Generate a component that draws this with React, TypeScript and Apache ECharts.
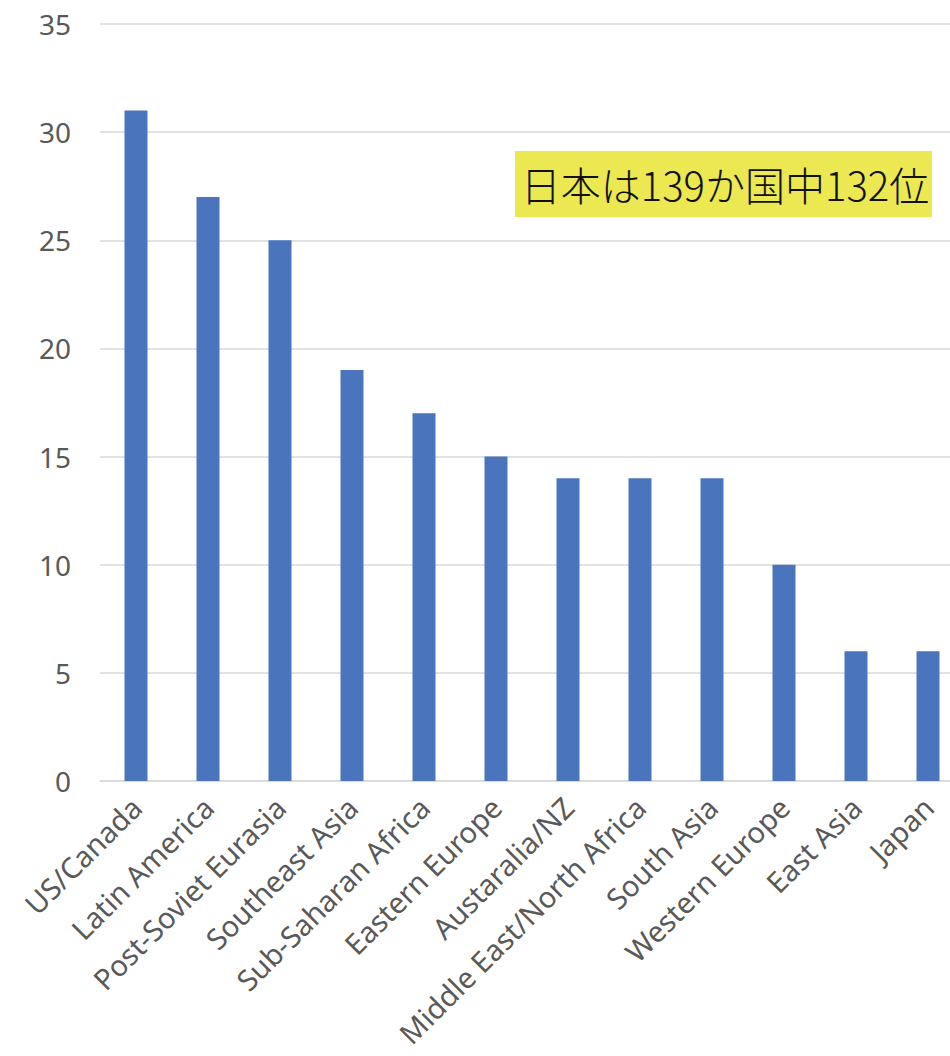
import React, { useEffect, useRef } from "react";
import * as echarts from "echarts";

// Regions and their counts
const regions = [
  "US/Canada",
  "Latin America",
  "Post-Soviet Eurasia",
  "Southeast Asia",
  "Sub-Saharan Africa",
  "Eastern Europe",
  "Austaralia/NZ",
  "Middle East/North Africa",
  "South Asia",
  "Western Europe",
  "East Asia",
  "Japan",
];
const counts = [31, 27, 25, 19, 17, 15, 14, 14, 14, 10, 6, 6];

const yMin = 0;
const yMax = 35;
const yStep = 5;

const noteText = "日本は139か国中132位";

const latinFont = "'Noto Sans', 'Open Sans', sans-serif";
const cjkFont = "'Noto Sans CJK JP', sans-serif";

export default function App() {
  const ref = useRef<HTMLDivElement>(null);

  useEffect(() => {
    document.body.style.margin = "0";
    if (!ref.current) return;
    const chart = echarts.init(ref.current, null, { renderer: "svg" });
    chart.setOption({
      animation: false,
      backgroundColor: "#ffffff",
      // The plot runs slightly past the right edge of the frame.
      grid: {
        left: 100,
        width: 864,
        top: 24,
        height: 757,
        containLabel: false,
        outerBoundsMode: "none",
      },
      xAxis: {
        type: "category",
        data: regions,
        axisLine: { show: true, lineStyle: { color: "#d9d9d9", width: 1.5 } },
        axisTick: { show: false },
        axisLabel: {
          rotate: 45,
          interval: 0,
          margin: 21,
          color: "#595959",
          fontSize: 29,
          fontFamily: latinFont,
        },
      },
      yAxis: {
        type: "value",
        min: yMin,
        max: yMax,
        interval: yStep,
        axisLine: { show: false },
        axisTick: { show: false },
        splitLine: { lineStyle: { color: "#d9d9d9", width: 1.5 } },
        axisLabel: {
          margin: 29,
          color: "#595959",
          fontSize: 28,
          fontFamily: latinFont,
        },
      },
      series: [
        {
          type: "bar",
          data: counts,
          barWidth: 23,
          itemStyle: { color: "#4a74bb" },
        },
      ],
      graphic: [
        {
          type: "group",
          left: 515,
          top: 151,
          children: [
            {
              type: "rect",
              shape: { x: 0, y: 0, width: 417, height: 66 },
              style: { fill: "#ebe851" },
            },
            {
              type: "text",
              x: 210,
              y: 33,
              style: {
                text: noteText,
                fill: "#111111",
                font: `300 40px ${cjkFont}`,
                align: "center",
                verticalAlign: "middle",
              },
            },
          ],
        },
      ],
    });
    return () => chart.dispose();
  }, []);

  return (
    <div style={{ width: 950, height: 1056, overflow: "hidden" }}>
      <div ref={ref} style={{ width: 950, height: 1056 }} />
    </div>
  );
}
